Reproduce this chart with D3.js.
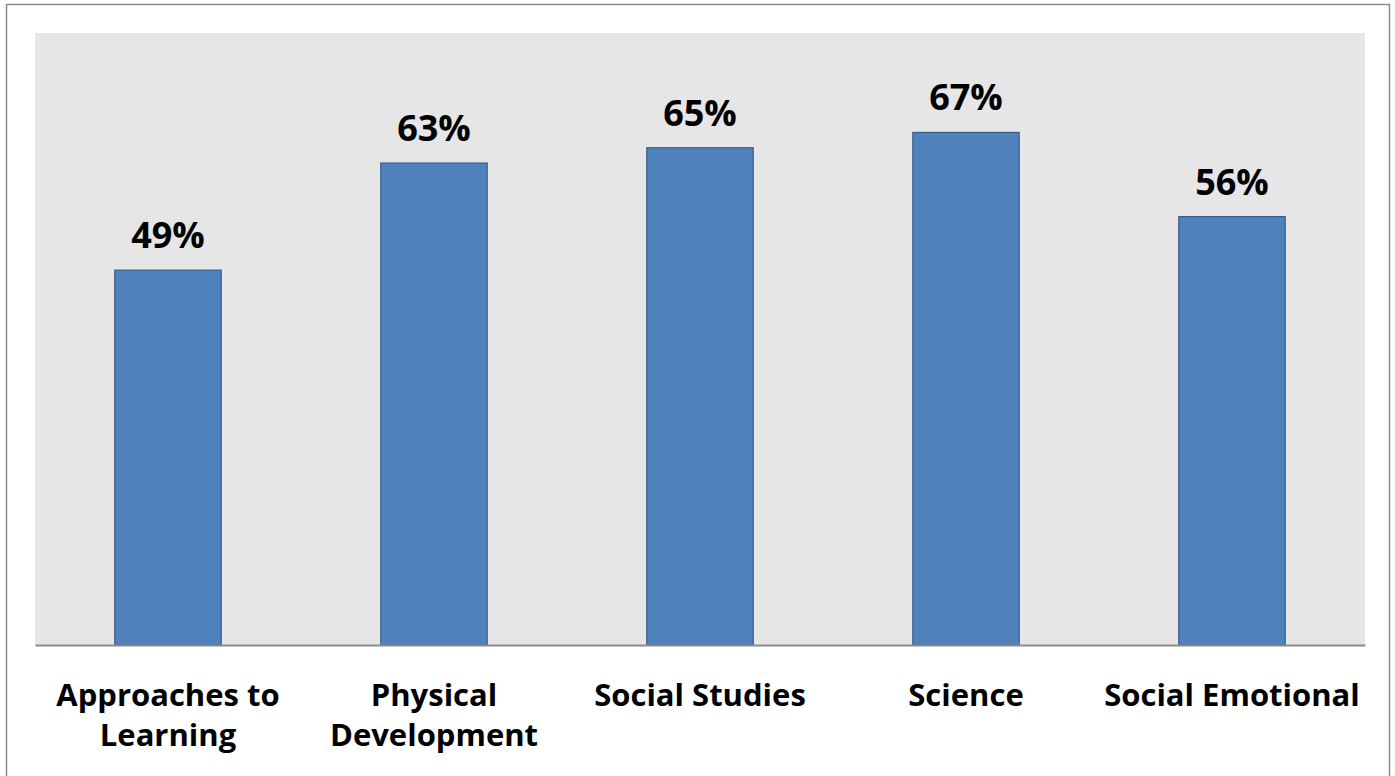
<!DOCTYPE html>
<html lang="en">
<head>
  <meta charset="utf-8" />
  <title>Domain scores</title>
  <script type="text/javascript" src="https://cdn.jsdelivr.net/npm/d3@7"></script>
  <style type="text/css">
body { margin: 0; background: white; }
text { font-family: "Open Sans", Lato, sans-serif; font-weight: bold; fill: black; }
  </style>
</head>
<body>

<script type="text/javascript">

// values
var categories = ["Approaches to\nLearning", "Physical\nDevelopment", "Social Studies", "Science", "Social Emotional"];
var values = [0.49, 0.63, 0.65, 0.67, 0.56];
var yDomain = [0, 0.8];

var w = 1395;
var h = 776;
var plot = { left: 35, right: 1365, top: 33, bottom: 645 };

var svg = d3.select("body")
    .append("svg")
    .attr("width", w)
    .attr("height", h);

// outer frame (bottom edge runs off the picture)
svg.append("rect")
    .attr("x", 6.5)
    .attr("y", 4.5)
    .attr("width", 1383)
    .attr("height", 800)
    .attr("fill", "white")
    .attr("stroke", "#8a8a8a")
    .attr("stroke-width", 1.5);

// plot area
svg.append("rect")
    .attr("x", plot.left)
    .attr("y", plot.top)
    .attr("width", plot.right - plot.left)
    .attr("height", plot.bottom - plot.top)
    .attr("fill", "#e6e6e6");

var xScale = d3.scaleBand()
    .domain(d3.range(categories.length))
    .range([plot.left, plot.right])
    .paddingInner(0.6)
    .paddingOuter(0.3);
var yScale = d3.scaleLinear()
    .domain(yDomain)
    .range([plot.bottom, plot.top]);

var data = values.map(function(v, i) { return { cat: categories[i], val: v, i: i }; });

svg.append("g").attr("id", "bars")
    .selectAll("rect")
    .data(data)
    .enter()
    .append("rect")
    .attr("x", function(d) { return xScale(d.i); })
    .attr("y", function(d) { return yScale(d.val); })
    .attr("width", xScale.bandwidth())
    .attr("height", function(d) { return yScale(0) - yScale(d.val); })
    .attr("fill", "#4f81bd")
    .attr("stroke", "#385d8a")
    .attr("stroke-width", 1.2);

// value labels
svg.append("g").attr("id", "values")
    .selectAll("text")
    .data(data)
    .enter()
    .append("text")
    .attr("x", function(d) { return xScale(d.i) + xScale.bandwidth() / 2; })
    .attr("y", function(d) { return yScale(d.val) - 22; })
    .attr("text-anchor", "middle")
    .style("font-size", "36px")
    .text(function(d) { return d3.format(".0%")(d.val); });

// x axis
var xAxis = d3.axisBottom(xScale).tickSize(0).tickFormat("");
var gx = svg.append("g")
    .attr("transform", "translate(0," + plot.bottom + ")")
    .call(xAxis);
gx.select(".domain").attr("stroke", "#8c8c8c").attr("stroke-width", 2);

// category labels, split into lines
svg.append("g").attr("id", "cats")
    .selectAll("text")
    .data(data)
    .enter()
    .append("text")
    .attr("text-anchor", "middle")
    .style("font-size", "31px")
    .each(function(d) {
      var t = d3.select(this);
      d.cat.split("\n").forEach(function(line, k) {
        t.append("tspan")
            .attr("x", xScale(d.i) + xScale.bandwidth() / 2)
            .attr("y", 706 + k * 40)
            .text(line);
      });
    });

</script>

</body>
</html>
